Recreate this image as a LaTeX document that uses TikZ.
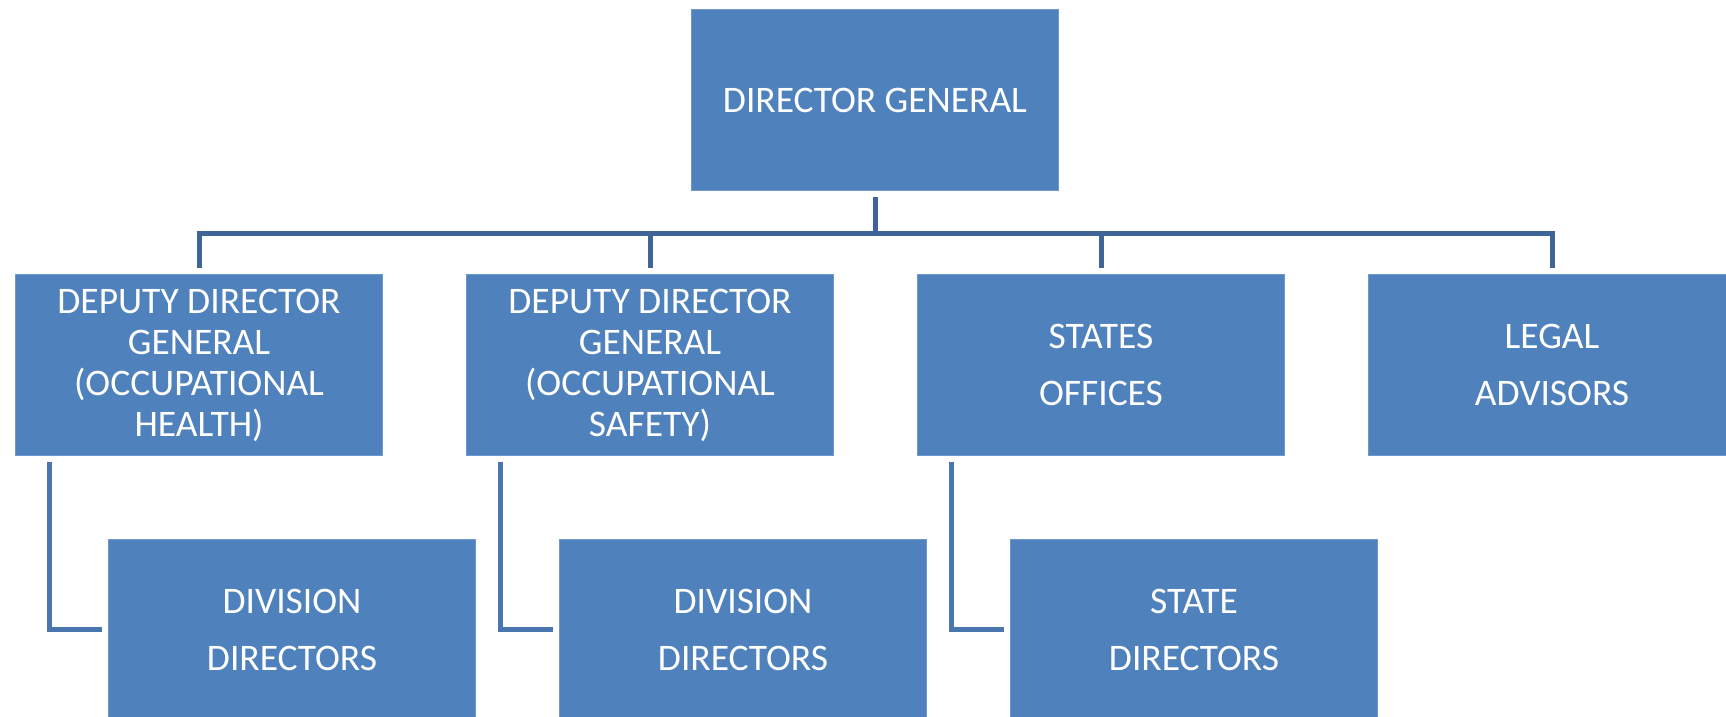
\documentclass[tikz,border=0pt]{standalone}
\usepackage{fontspec}
\setmainfont{Carlito}
\definecolor{boxfill}{RGB}{79,129,189}
\definecolor{boxedge}{RGB}{110,152,205}
\definecolor{busline}{RGB}{62,100,152}
\definecolor{subline}{RGB}{74,118,176}
\tikzset{
  orgbox/.style={rectangle, anchor=north west, fill=boxfill, draw=boxedge, line width=1pt,
    minimum width=367pt, minimum height=181pt, inner sep=0pt, text=white, align=center,
    font=\fontsize{37.5}{57}\selectfont},
  tightbox/.style={orgbox, font=\fontsize{37.5}{41}\selectfont},
  busconn/.style={draw=busline, line width=5pt, shorten <=6pt, shorten >=6pt},
  subconn/.style={draw=subline, line width=5pt, shorten <=6pt, shorten >=6pt}
}
\begin{document}
\begin{tikzpicture}[x=1pt,y=-1pt]
\clip (0,0) rectangle (1726,717);
\useasboundingbox (0,0) rectangle (1726,717);
\node[orgbox] (dg) at (691,9) {DIRECTOR GENERAL};
\node[tightbox] (ddg1) at (15,274) {DEPUTY DIRECTOR\\GENERAL\\(OCCUPATIONAL\\HEALTH)};
\node[tightbox] (ddg2) at (466,274) {DEPUTY DIRECTOR\\GENERAL\\(OCCUPATIONAL\\SAFETY)};
\node[orgbox] (so) at (917,274) {STATES\\OFFICES};
\node[orgbox] (la) at (1368,274) {LEGAL\\ADVISORS};
\node[orgbox, minimum height=180pt] (div1) at (108,539) {DIVISION\\DIRECTORS};
\node[orgbox, minimum height=180pt] (div2) at (559,539) {DIVISION\\DIRECTORS};
\node[orgbox, minimum height=180pt] (sd) at (1010,539) {STATE\\DIRECTORS};
\foreach \t in {ddg1,ddg2,so,la}
  \draw[busconn] (dg.south) -- ++(0,42) -| (\t.north);
\draw[subconn] ([xshift=34pt]ddg1.south west) |- (div1.west);
\draw[subconn] ([xshift=34pt]ddg2.south west) |- (div2.west);
\draw[subconn] ([xshift=34pt]so.south west) |- (sd.west);
\end{tikzpicture}
\end{document}
